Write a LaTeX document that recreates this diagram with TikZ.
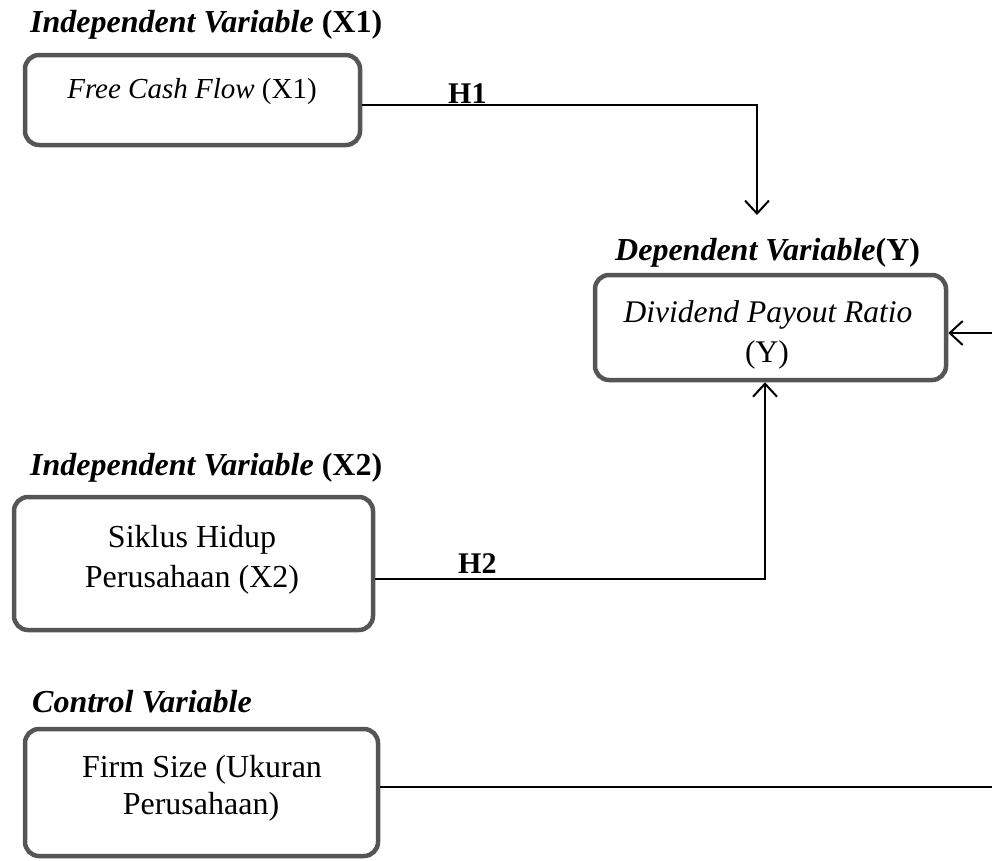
\documentclass[tikz,border=0pt]{standalone}
\usepackage{fontspec}
\setmainfont{Liberation Serif}
\usetikzlibrary{arrows.meta,calc}
\definecolor{boxgray}{HTML}{555555}
\begin{document}
\begin{tikzpicture}[x=1pt,y=-1pt,
  box/.style={draw=boxgray, line width=4.5pt, rounded corners=14pt, inner sep=0pt, fill=white},
  txt/.style={font=\fontsize{32}{38}\selectfont, inner sep=0pt, anchor=base},
  ttl/.style={font=\fontsize{32}{38}\selectfont\bfseries, inner sep=0pt, anchor=base west},
  hyp/.style={font=\fontsize{30}{35}\selectfont\bfseries, inner sep=0pt, anchor=base west},
  conn/.style={line width=2pt, black},
  arr/.style={conn, -{Straight Barb[length=13pt,width=24pt,line width=2pt]}}]
\useasboundingbox (0,0) rectangle (992,860);

% titles
\node[ttl] (t1) at (30,32) {\textit{Independent Variable} (X1)};
\node[ttl] (ty) at (615,260) {\textit{Dependent Variable}(Y)};
\node[ttl] (t2) at (30,475) {\textit{Independent Variable} (X2)};
\node[ttl] (tc) at (32,712) {\textit{Control Variable}};

% boxes
\node[box, minimum width=335pt, minimum height=90pt] (b1) at (192.5,100) {};
\node[box, minimum width=351pt, minimum height=105pt] (by) at (770.5,327.5) {};
\node[box, minimum width=359pt, minimum height=133pt] (b2) at (193.5,563.5) {};
\node[box, minimum width=353pt, minimum height=127pt] (bc) at (201.5,792.5) {};

% box texts
\node[txt, font=\fontsize{29}{35}\selectfont] (b1t) at (192,98) {\textit{Free Cash Flow} (X1)};
\node[txt, font=\fontsize{31.5}{37}\selectfont] (byt1) at (768,322) {\textit{Dividend Payout Ratio}};
\node[txt, font=\fontsize{31.5}{37}\selectfont] (byt2) at (767,362) {(Y)};
\node[txt] (b2t1) at (192,547) {Siklus Hidup};
\node[txt] (b2t2) at (192,587) {Perusahaan (X2)};
\node[txt] (bct1) at (202,777) {Firm Size (Ukuran};
\node[txt] (bct2) at (201,814) {Perusahaan)};

% hypothesis labels
\node[hyp] (h1) at (448,103) {H1};
\node[hyp] (h2) at (458,573) {H2};

% connectors
\coordinate (h1end) at (757,215);
\coordinate (rightin) at (992,333);
\coordinate (ctrlend) at (992,787);
\draw[arr] ([yshift=-5pt]b1.east) -| (h1end);
\draw[arr] ([yshift=-15.5pt]b2.east) -| ([xshift=-5.5pt]by.south);
\draw[arr] (rightin) -- ([yshift=-5.5pt]by.east);
\draw[conn, line width=2.5pt] ([yshift=5.5pt]bc.east) -- (ctrlend);
\end{tikzpicture}
\end{document}
